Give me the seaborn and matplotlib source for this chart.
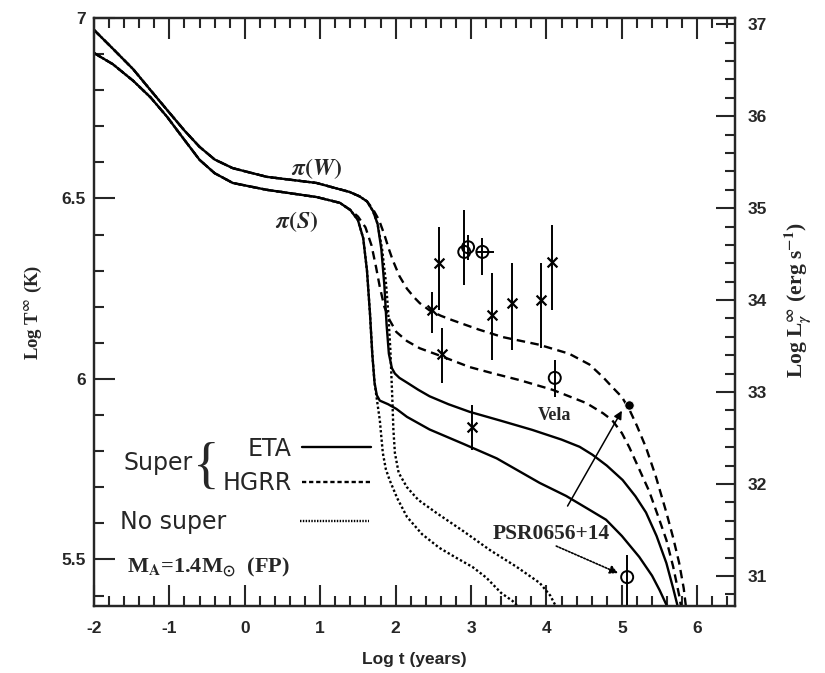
import numpy as np
import pandas as pd
import matplotlib
matplotlib.use("Agg")
import matplotlib.pyplot as plt
from matplotlib.ticker import MultipleLocator
from matplotlib.lines import Line2D
import seaborn as sns

# ---------------- data ----------------
# common early cooling part of the two families
w_plateau_x = [-2.0, -1.75, -1.48, -1.25, -1.03, -0.8, -0.6, -0.4, -0.16, 0.29, 0.95, 1.39, 1.52, 1.62]
w_plateau_T = [6.967, 6.915, 6.858, 6.80, 6.745, 6.688, 6.643, 6.608, 6.584, 6.56, 6.543, 6.518, 6.506, 6.492]
s_plateau_x = [-2.0, -1.75, -1.48, -1.25, -1.03, -0.8, -0.6, -0.4, -0.16, 0.29, 0.95, 1.26, 1.40]
s_plateau_T = [6.903, 6.872, 6.826, 6.78, 6.726, 6.662, 6.607, 6.57, 6.543, 6.524, 6.504, 6.488, 6.468]

# branches  pi(W)
w_eta_x = [1.70, 1.76, 1.81, 1.85, 1.88, 1.91, 1.95, 1.99, 2.05, 2.15, 2.3, 2.45, 2.7, 2.98, 3.4,
           3.81, 4.2, 4.44, 4.61, 4.8, 5.01, 5.18, 5.32, 5.46, 5.59, 5.68, 5.74, 5.77]
w_eta_T = [6.465, 6.43, 6.36, 6.26, 6.15, 6.07, 6.03, 6.015, 6.003, 5.99, 5.97, 5.952, 5.93, 5.909, 5.884,
           5.859, 5.832, 5.812, 5.79, 5.76, 5.72, 5.675, 5.63, 5.565, 5.49, 5.42, 5.37, 5.33]
w_hgrr_x = [1.70, 1.78, 1.85, 1.91, 1.96, 2.05, 2.15, 2.25, 2.32, 2.45, 2.6, 2.75, 3.1, 3.42, 3.9, 4.3,
            4.57, 4.75, 4.87, 5.0, 5.1, 5.2, 5.32, 5.45, 5.59, 5.68, 5.76, 5.82, 5.86, 5.88]
w_hgrr_T = [6.47, 6.44, 6.40, 6.36, 6.33, 6.285, 6.25, 6.225, 6.21, 6.19, 6.175, 6.163, 6.137, 6.116, 6.095, 6.07,
            6.04, 6.005, 5.978, 5.95, 5.915, 5.87, 5.81, 5.73, 5.63, 5.56, 5.49, 5.42, 5.35, 5.32]
w_none_x = [1.70, 1.76, 1.82, 1.87, 1.90, 1.93, 1.955, 1.97, 1.99, 2.04, 2.15, 2.3, 2.54, 2.9, 3.25, 3.6,
            3.91, 4.05, 4.13, 4.18]
w_none_T = [6.465, 6.43, 6.36, 6.27, 6.19, 6.08, 5.95, 5.86, 5.795, 5.74, 5.70, 5.665, 5.629, 5.578, 5.526, 5.48,
            5.435, 5.40, 5.368, 5.34]
# branches  pi(S)
s_eta_x = [1.50, 1.57, 1.62, 1.66, 1.69, 1.72, 1.75, 1.79, 1.9, 2.01, 2.15, 2.45, 2.9, 3.34, 3.91, 4.26,
           4.55, 4.79, 5.0, 5.23, 5.4, 5.5, 5.6, 5.66]
s_eta_T = [6.44, 6.39, 6.30, 6.18, 6.07, 5.99, 5.955, 5.94, 5.93, 5.917, 5.895, 5.86, 5.82, 5.78, 5.712, 5.676,
           5.64, 5.61, 5.565, 5.507, 5.455, 5.415, 5.37, 5.33]
s_none_x = [1.50, 1.57, 1.62, 1.66, 1.69, 1.72, 1.76, 1.79, 1.81, 1.83, 1.87, 1.92, 2.02, 2.15, 2.35, 2.58,
            2.8, 3.02, 3.2, 3.4, 3.55, 3.64, 3.7]
s_none_T = [6.44, 6.39, 6.30, 6.18, 6.07, 5.99, 5.93, 5.886, 5.84, 5.795, 5.75, 5.72, 5.67, 5.618, 5.57, 5.532,
            5.505, 5.479, 5.45, 5.407, 5.385, 5.366, 5.34]
s_hgrr_x = [1.50, 1.60, 1.68, 1.74, 1.79, 1.85, 1.92, 2.01, 2.15, 2.32, 2.62, 2.98, 3.3, 3.64, 4.08, 4.53,
            4.75, 4.87, 5.0, 5.10, 5.23, 5.36, 5.48, 5.59, 5.68, 5.76, 5.80, 5.82]
s_hgrr_T = [6.45, 6.42, 6.37, 6.31, 6.255, 6.20, 6.163, 6.13, 6.105, 6.085, 6.062, 6.033, 6.015, 5.997, 5.97, 5.933,
            5.905, 5.886, 5.85, 5.81, 5.75, 5.69, 5.62, 5.554, 5.48, 5.40, 5.35, 5.32]

# observations: crosses
cross_t = [2.48, 2.58, 2.62, 3.01, 3.28, 3.54, 3.93, 4.07]
cross_T = [6.19, 6.32, 6.07, 5.867, 6.177, 6.21, 6.219, 6.324]
cross_lo = [6.127, 6.19, 5.989, 5.803, 6.053, 6.08, 6.086, 6.19]
cross_hi = [6.241, 6.42, 6.141, 5.928, 6.294, 6.321, 6.32, 6.427]
# observations: open circles
circ_t = [2.91, 2.96, 3.15, 4.11, 5.07]
circ_T = [6.352, 6.365, 6.352, 6.003, 5.451]
circ_lo = [6.26, 6.33, 6.288, 5.95, 5.368]
circ_hi = [6.468, 6.40, 6.39, 6.053, 5.512]
circ_xlo = [2.91, 2.96, 3.07, 4.11, 5.07]
circ_xhi = [2.91, 2.96, 3.30, 4.11, 5.07]
# PSR0656+14 filled point
psr_t = [5.10]
psr_T = [5.928]

# ---------------- build tables ----------------
rows = []
def add(name, kind, xs, ys):
    for a, b in zip(xs, ys):
        rows.append((name, kind, a, b))
add("W-ETA", "ETA", w_plateau_x + w_eta_x, w_plateau_T + w_eta_T)
add("W-HGRR", "HGRR", w_plateau_x + w_hgrr_x, w_plateau_T + w_hgrr_T)
add("W-none", "No super", w_plateau_x + w_none_x, w_plateau_T + w_none_T)
add("S-ETA", "ETA", s_plateau_x + s_eta_x, s_plateau_T + s_eta_T)
add("S-HGRR", "HGRR", s_plateau_x + s_hgrr_x, s_plateau_T + s_hgrr_T)
add("S-none", "No super", s_plateau_x + s_none_x, s_plateau_T + s_none_T)
curves = pd.DataFrame(rows, columns=["curve", "kind", "logt", "logT"])

crosses = pd.DataFrame({"logt": cross_t, "logT": cross_T})
circles = pd.DataFrame({"logt": circ_t, "logT": circ_T})
psr = pd.DataFrame({"logt": psr_t, "logT": psr_T})

# ---------------- style ----------------
sns.set_style("ticks")
plt.rcParams["font.family"] = ["Liberation Sans", "DejaVu Sans"]
plt.rcParams["font.weight"] = "bold"
plt.rcParams["mathtext.fontset"] = "stix"
plt.rcParams["axes.unicode_minus"] = False
plt.rcParams["axes.linewidth"] = 1.6
plt.rcParams["lines.solid_joinstyle"] = "round"
plt.rcParams["lines.dash_joinstyle"] = "round"
SERIF = ["Liberation Serif", "DejaVu Serif"]

fig = plt.figure(figsize=(8.25, 6.73), dpi=100)
ax = fig.add_axes([94 / 825, 1 - 606 / 673, 641 / 825, 588 / 673])

dash_map = {"ETA": "", "HGRR": (3.6, 2.3), "No super": (1.0, 1.0)}
sns.lineplot(data=curves, x="logt", y="logT", units="curve", style="kind",
             dashes=dash_map, estimator=None, sort=False, color="black",
             lw=1.7, legend=False, ax=ax)

# error bars and points
ax.errorbar(cross_t, cross_T,
            yerr=[np.subtract(cross_T, cross_lo), np.subtract(cross_hi, cross_T)],
            fmt="none", ecolor="black", elinewidth=1.4, capsize=0)
ax.errorbar(circ_t, circ_T,
            yerr=[np.subtract(circ_T, circ_lo), np.subtract(circ_hi, circ_T)],
            xerr=[np.subtract(circ_t, circ_xlo), np.subtract(circ_xhi, circ_t)],
            fmt="none", ecolor="black", elinewidth=1.4, capsize=0)
sns.scatterplot(data=crosses, x="logt", y="logT", marker="x", s=50,
                color="black", linewidth=1.6, ax=ax, legend=False, zorder=4)
sns.scatterplot(data=circles, x="logt", y="logT", marker="o", s=75,
                facecolor="none", edgecolor="black", linewidth=1.4, ax=ax,
                legend=False, zorder=4)
sns.scatterplot(data=psr, x="logt", y="logT", marker="o", s=45,
                color="black", ax=ax, legend=False, zorder=4)

# axes
ax.set_xlim(-2, 6.5)
ax.set_ylim(5.371, 7.0)
ax.xaxis.set_major_locator(MultipleLocator(1))
ax.xaxis.set_minor_locator(MultipleLocator(0.2))
ax.yaxis.set_major_locator(MultipleLocator(0.5))
ax.yaxis.set_minor_locator(MultipleLocator(0.1))
ax.yaxis.set_major_formatter(plt.FuncFormatter(lambda v, p: f"{v:g}"))
ax.tick_params(which="both", direction="in", top=True, right=False, width=1.5)
ax.tick_params(which="major", length=15, labelsize=12.5)
ax.tick_params(which="minor", length=7)
ax.tick_params(axis="x", which="major", pad=11)
ax.tick_params(axis="y", which="major", pad=6)

ax2 = ax.twinx()
ax2.set_ylim(37 + (5.371 - 6.983) * 3.924, 37 + (7.0 - 6.983) * 3.924)
ax2.yaxis.set_major_locator(MultipleLocator(1))
ax2.yaxis.set_minor_locator(MultipleLocator(0.2))
ax2.tick_params(which="both", direction="in", width=1.5)
ax2.tick_params(which="major", length=14, labelsize=12.5, pad=9)
ax2.tick_params(which="minor", length=7)
for sp in ax2.spines.values():
    sp.set_linewidth(1.6)

ax.set_xlabel("Log t (years)", fontsize=12.5, fontweight="bold")
ax.set_ylabel(r"Log T$^{\infty}$ (K)", fontsize=13.5, fontweight="bold", family=SERIF)
ax2.set_ylabel(r"Log L$_{\gamma}^{\infty}$ (erg s$^{-1}$)", fontsize=15.5,
               fontweight="bold", family=SERIF)
ax.xaxis.set_label_coords(0.5, -0.078)
ax.yaxis.set_label_coords(-0.078, 0.5)
ax2.yaxis.set_label_coords(1.072, 0.52)

# curve labels
ax.text(0.95, 6.584, r"$\pi(W)$", fontsize=17, ha="center", va="center")
ax.text(0.69, 6.435, r"$\pi(S)$", fontsize=17, ha="center", va="center")
ax.text(4.11, 5.90, "Vela", fontsize=13, ha="center", va="center", family=SERIF)
ax.annotate("PSR0656+14", xy=(5.0, 5.912), xytext=(4.07, 5.571),
            fontsize=15.5, ha="center", va="center", family=SERIF,
            arrowprops=dict(arrowstyle="-|>", lw=1.1, color="black",
                            shrinkA=12, shrinkB=0, mutation_scale=12))
ax.annotate("", xy=(4.95, 5.462), xytext=(4.13, 5.537),
            arrowprops=dict(arrowstyle="-|>", lw=1.2, color="black",
                            linestyle=(0, (1, 1)), shrinkA=0, shrinkB=0,
                            mutation_scale=12))
ax.text(-1.563, 5.479, r"M$_{\rm A}$=1.4M$_{\odot}$  (FP)", fontsize=16,
        ha="left", va="center", family=SERIF)

# legend
LEGFONT = ["DejaVu Sans"]
ax.text(-1.15, 5.767, "Super", fontsize=17, fontweight="normal", family=LEGFONT,
        ha="center", va="center")
ax.text(-0.51, 5.752, "{", fontsize=40, fontweight="light", family=SERIF,
        ha="center", va="center")
h1 = [Line2D([], [], color="black", lw=1.7),
      Line2D([], [], color="black", lw=1.7, dashes=(1.8, 1.2))]
leg1 = ax.legend(h1, ["ETA", "HGRR"], loc="center left",
                 bbox_to_anchor=(0.2, 0.238), frameon=False, markerfirst=False,
                 handlelength=2.9, handletextpad=0.45, labelspacing=0.45,
                 borderpad=0, borderaxespad=0,
                 prop={"size": 17, "weight": "normal", "family": LEGFONT})
ax.add_artist(leg1)
h2 = [Line2D([], [], color="black", lw=1.7, dashes=(0.6, 0.6))]
ax.legend(h2, ["No super"], loc="center left", bbox_to_anchor=(0.04, 0.143),
          frameon=False, markerfirst=False, handlelength=2.9,
          handletextpad=3.15, borderpad=0, borderaxespad=0,
          prop={"size": 17, "weight": "normal", "family": LEGFONT})

fig.savefig("out.png", dpi=100)
